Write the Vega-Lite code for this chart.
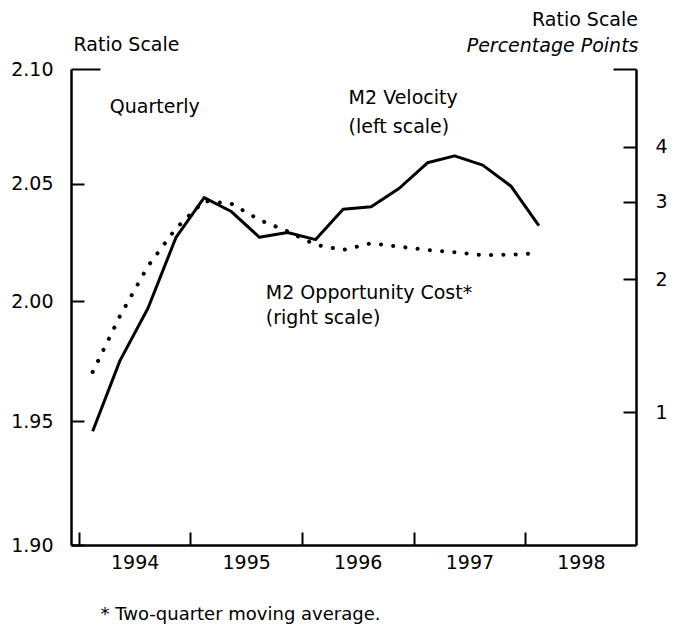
{
  "$schema": "https://vega.github.io/schema/vega-lite/v6.json",
  "width": 565,
  "height": 476,
  "autosize": {"type": "none"},
  "padding": {"left": 71, "top": 69, "right": 46, "bottom": 86},
  "background": "white",
  "config": {
    "view": {"stroke": null},
    "font": "DejaVu Sans",
    "axis": {
      "grid": false,
      "domainColor": "black",
      "tickColor": "black",
      "labelColor": "black",
      "titleColor": "black",
      "labelFont": "DejaVu Sans",
      "labelFontSize": 19,
      "titleFont": "DejaVu Sans",
      "titleFontSize": 19,
      "titleFontWeight": "normal",
      "domainWidth": 2.5,
      "tickWidth": 2,
      "tickSize": -13,
      "labelPadding": 31
    }
  },
  "title": {
    "text": "Ratio Scale",
    "anchor": "end",
    "orient": "top",
    "frame": "group",
    "font": "DejaVu Sans",
    "fontSize": 19,
    "fontWeight": "normal",
    "color": "black",
    "offset": 5,
    "dx": 2
  },
  "datasets": {
    "m2": [
      {"date": "1994-02-15", "velocity": 1.946, "opportunity_cost": 1.234},
      {"date": "1994-05-15", "velocity": 1.975, "opportunity_cost": 1.650},
      {"date": "1994-08-15", "velocity": 1.997, "opportunity_cost": 2.144},
      {"date": "1994-11-15", "velocity": 2.027, "opportunity_cost": 2.612},
      {"date": "1995-02-15", "velocity": 2.044, "opportunity_cost": 3.013},
      {"date": "1995-05-15", "velocity": 2.038, "opportunity_cost": 2.970},
      {"date": "1995-08-15", "velocity": 2.027, "opportunity_cost": 2.730},
      {"date": "1995-11-15", "velocity": 2.029, "opportunity_cost": 2.571},
      {"date": "1996-02-15", "velocity": 2.026, "opportunity_cost": 2.397},
      {"date": "1996-05-15", "velocity": 2.039, "opportunity_cost": 2.333},
      {"date": "1996-08-15", "velocity": 2.040, "opportunity_cost": 2.416},
      {"date": "1996-11-15", "velocity": 2.048, "opportunity_cost": 2.373},
      {"date": "1997-02-15", "velocity": 2.059, "opportunity_cost": 2.333},
      {"date": "1997-05-15", "velocity": 2.062, "opportunity_cost": 2.306},
      {"date": "1997-08-15", "velocity": 2.058, "opportunity_cost": 2.270},
      {"date": "1997-11-15", "velocity": 2.049, "opportunity_cost": 2.276},
      {"date": "1998-02-15", "velocity": 2.032, "opportunity_cost": 2.294}
    ],
    "notes": [
      {"date": "1994-04-12", "value": 2.0833, "label": "Quarterly"},
      {"date": "1996-06-02", "value": 2.0872, "label": "M2 Velocity"},
      {"date": "1996-06-02", "value": 2.0745, "label": "(left scale)"},
      {"date": "1995-09-05", "value": 2.0034, "label": "M2 Opportunity Cost*"},
      {"date": "1995-09-05", "value": 1.9929, "label": "(right scale)"}
    ]
  },
  "encoding": {
    "x": {
      "field": "date",
      "type": "temporal",
      "scale": {
        "type": "utc",
        "nice": false,
        "domain": [
          {"year": 1993, "month": 12, "date": 6, "utc": true},
          {"year": 1998, "month": 12, "date": 30, "utc": true}
        ]
      },
      "axis": {
        "orient": "bottom",
        "values": [
          {"year": 1994, "month": 1, "date": 1, "utc": true},
          {"year": 1995, "month": 1, "date": 1, "utc": true},
          {"year": 1996, "month": 1, "date": 1, "utc": true},
          {"year": 1997, "month": 1, "date": 1, "utc": true},
          {"year": 1998, "month": 1, "date": 1, "utc": true}
        ],
        "format": "%Y",
        "labelOffset": 55.75,
        "labelPadding": 21,
        "labelFlush": false,
        "labelOverlap": false,
        "title": "* Two-quarter moving average.",
        "titleFontSize": 18,
        "titleX": 29,
        "titleY": 69,
        "titleAlign": "left",
        "titleBaseline": "middle",
        "titleAnchor": null
      }
    }
  },
  "layer": [
    {
      "data": {"name": "m2"},
      "mark": {"type": "line", "color": "black", "strokeWidth": 3, "strokeJoin": "round"},
      "encoding": {
        "y": {
          "field": "velocity",
          "type": "quantitative",
          "scale": {"type": "log", "domain": [1.9, 2.1], "nice": false},
          "axis": {
            "orient": "left",
            "values": [1.9, 1.95, 2.0, 2.05, 2.1],
            "format": ".2f",
            "tickSize": {"condition": {"test": "datum.value > 2.09", "value": -29}, "value": -13},
            "labelPadding": {"condition": {"test": "datum.value > 2.09", "value": 47}, "value": 31},
            "title": "Ratio Scale",
            "titleAngle": 0,
            "titleX": 2,
            "titleY": -19,
            "titleAlign": "left",
            "titleBaseline": "alphabetic",
            "labelFlush": false,
            "labelOverlap": false
          }
        }
      }
    },
    {
      "data": {"name": "m2"},
      "mark": {"type": "line", "color": "black", "strokeWidth": 4, "strokeCap": "round", "strokeDash": [0.1, 12.2]},
      "encoding": {
        "y": {
          "field": "opportunity_cost",
          "type": "quantitative",
          "scale": {"type": "log", "domain": [0.5, 6], "nice": false},
          "axis": {
            "orient": "right",
            "values": [1, 2, 3, 4, 6],
            "format": "d",
            "labelExpr": "datum.value > 5 ? '' : datum.label",
            "tickSize": {"condition": {"test": "datum.value > 5", "value": -23}, "value": -13},
            "title": "Percentage Points",
            "titleFontStyle": "italic",
            "titleAngle": 0,
            "titleX": 2,
            "titleY": -18,
            "titleAlign": "right",
            "titleBaseline": "alphabetic",
            "labelPadding": 32,
            "labelFlush": false,
            "labelOverlap": false
          }
        }
      }
    },
    {
      "data": {"name": "notes"},
      "mark": {"type": "text", "align": "left", "baseline": "middle", "font": "DejaVu Sans", "fontSize": 19, "color": "black", "clip": false},
      "encoding": {
        "y": {
          "field": "value",
          "type": "quantitative",
          "scale": {"type": "log", "domain": [1.9, 2.1], "nice": false},
          "axis": null
        },
        "text": {"field": "label"}
      }
    }
  ],
  "resolve": {"scale": {"y": "independent"}, "axis": {"y": "independent"}}
}
